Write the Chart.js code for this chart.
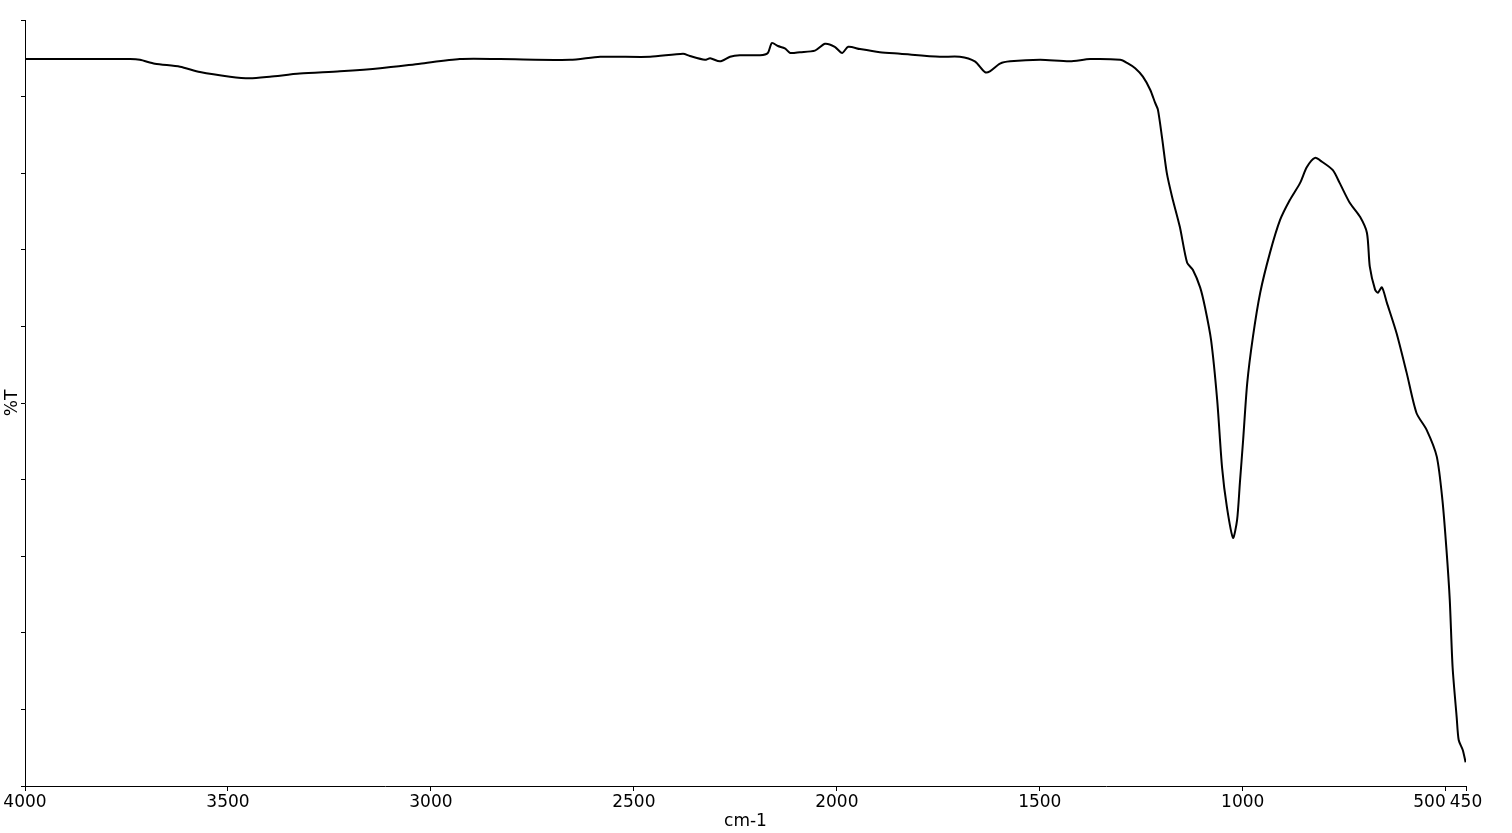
<!DOCTYPE html>
<html>
<head>
<meta charset="utf-8">
<script src="https://cdn.jsdelivr.net/npm/chart.js@4.4.1/dist/chart.umd.min.js"></script>
<style>
  html, body { margin: 0; padding: 0; background: #fff; }
  #wrap { width: 1512px; height: 833px; }
</style>
</head>
<body>
<div id="wrap"><canvas id="spec" width="1512" height="833"></canvas></div>
<script>
// wavenumber (cm-1) and transmittance
const wavenumbers = [4000, 3914, 3815, 3741, 3717, 3680, 3618, 3569, 3495, 3446, 3397, 3323, 3224, 3125, 3027, 2929,
    2830, 2657, 2583, 2460, 2379, 2362, 2325, 2312, 2288, 2263, 2239, 2189, 2170, 2160, 2145, 2128, 2115, 2091,
    2054, 2029, 2005, 1987, 1972, 1943, 1894, 1844, 1746, 1697, 1660, 1635, 1623, 1598, 1573, 1499, 1426, 1376,
    1302, 1285, 1265, 1246, 1228, 1216, 1209, 1199, 1187, 1174, 1155, 1137, 1123, 1105, 1093, 1078, 1063, 1051,
    1039, 1024, 1014, 1007, 999, 989, 975, 957, 933, 908, 884, 859, 842, 822, 805, 778, 761, 736, 711, 694, 687,
    674, 667, 657, 645, 621, 596, 572, 547, 522, 508, 498, 490, 483, 473, 468, 458, 451];
const transmittance = [94.9, 94.9, 94.9, 94.9, 94.8, 94.3, 93.9, 93.2, 92.6, 92.4, 92.6, 93.0, 93.3, 93.7, 94.3, 94.9,
    94.9, 94.8, 95.2, 95.2, 95.6, 95.3, 94.8, 95.0, 94.6, 95.2, 95.4, 95.4, 95.7, 97.0, 96.6, 96.3, 95.7, 95.8,
    96.0, 96.9, 96.5, 95.7, 96.5, 96.2, 95.8, 95.6, 95.2, 95.2, 94.6, 93.2, 93.3, 94.3, 94.6, 94.8, 94.6, 94.9,
    94.8, 94.4, 93.7, 92.6, 90.9, 89.2, 88.3, 84.7, 80.0, 76.9, 73.0, 68.3, 67.4, 65.1, 62.5, 58.2, 50.4, 41.6,
    36.4, 32.4, 34.7, 39.6, 45.2, 52.6, 58.6, 64.4, 69.6, 73.9, 76.5, 78.7, 80.8, 82.0, 81.5, 80.4, 78.7, 76.1,
    74.3, 72.2, 67.8, 64.8, 64.4, 65.1, 63.1, 59.1, 53.9, 48.7, 46.5, 43.0, 37.3, 30.8, 24.3, 15.5, 9.0, 6.0, 4.7, 3.1];

const xTickValues = [4000, 3500, 3000, 2500, 2000, 1500, 1000, 500, 450];
const xTitle = 'cm-1';
const yTitle = '%T';

const points = wavenumbers.map((w, i) => ({ x: w, y: transmittance[i] }));
const axisFont = { family: 'DejaVu Sans', size: 17 };

new Chart(document.getElementById('spec'), {
    type: 'line',
    data: {
        datasets: [{
            data: points,
            borderColor: '#000',
            borderWidth: 2,
            pointRadius: 0,
            tension: 0.25,
            fill: false
        }]
    },
    options: {
        responsive: false,
        animation: false,
        layout: { padding: { top: 20, right: 46, left: 0, bottom: 0 } },
        plugins: { legend: { display: false }, tooltip: { enabled: false } },
        scales: {
            x: {
                type: 'linear',
                reverse: true,
                min: 450,
                max: 4000,
                afterBuildTicks: s => { s.ticks = xTickValues.map(v => ({ value: v })); },
                afterFit: s => { s.height = 47; },
                border: { color: '#000', width: 1 },
                grid: { drawOnChartArea: false, drawTicks: true, tickLength: 5, color: '#000' },
                ticks: {
                    autoSkip: false,
                    maxRotation: 0,
                    padding: 1,
                    color: '#000',
                    font: axisFont,
                    // 500 sits right next to 450, push it left
                    callback: v => v === 500 ? '500      ' : String(v)
                },
                title: { display: true, text: xTitle, color: '#000', font: axisFont, padding: { top: 0, bottom: 1 } }
            },
            y: {
                min: 0,
                max: 100,
                afterFit: s => { s.width = 25; },
                border: { color: '#000', width: 1 },
                grid: { drawOnChartArea: false, drawTicks: true, tickLength: 4, color: '#000' },
                ticks: { display: false, stepSize: 10 },
                title: { display: true, text: yTitle, color: '#000', font: axisFont, padding: { top: 2, bottom: 0 } }
            }
        }
    }
});
</script>
</body>
</html>
